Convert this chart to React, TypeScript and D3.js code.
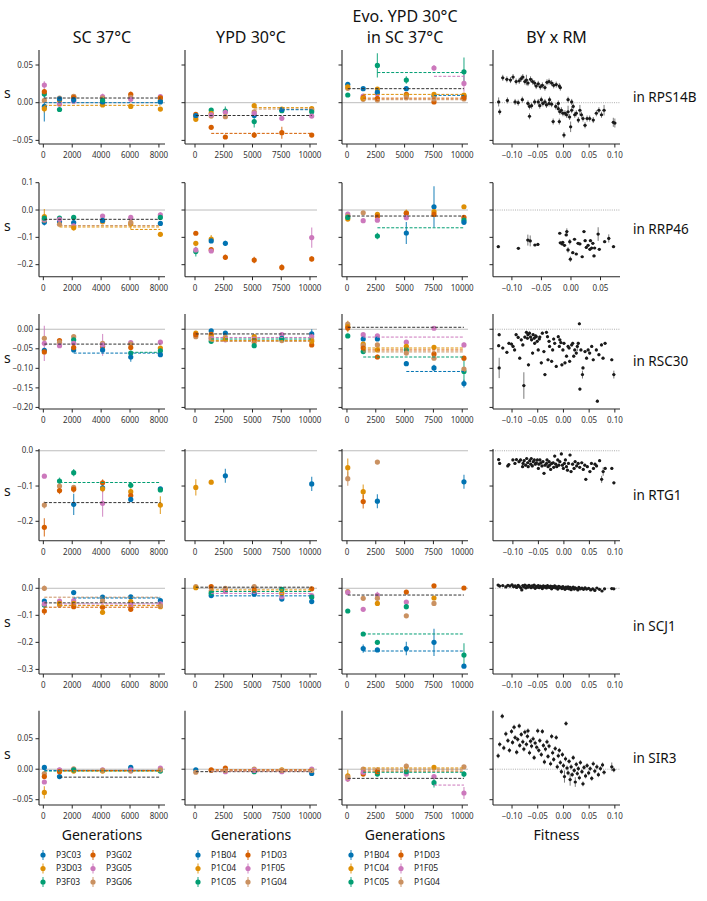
import React from 'react'
import * as d3 from 'd3'

// seaborn "colorblind" palette, same order as the legends
const COLORS = ['#0173b2', '#de8f05', '#029e73', '#d55e00', '#cc78bc', '#ca9161']

const GENS_SC = [70, 1120, 2100, 4100, 6050, 8100]
const GENS_YPD = [70, 1410, 2640, 5150, 7550, 10150]

const COL_TITLES = [['SC 37°C'], ['YPD 30°C'], ['Evo. YPD 30°C', 'in SC 37°C'], ['BY x RM']]
const GENES = ['RPS14B', 'RRP46', 'RSC30', 'RTG1', 'SCJ1', 'SIR3']
const LEGEND_SC = ['P3C03', 'P3D03', 'P3F03', 'P3G02', 'P3G05', 'P3G06']
const LEGEND_YPD = ['P1B04', 'P1C04', 'P1C05', 'P1D03', 'P1F05', 'P1G04']

const Y_TICKS = [
  [0.05, 0, -0.05],
  [0.1, 0, -0.1, -0.2],
  [0, -0.05, -0.1, -0.15, -0.2],
  [0, -0.1, -0.2],
  [0, -0.1, -0.2, -0.3],
  [0.05, 0, -0.05]
]
const Y_DIGITS = [2, 1, 2, 1, 1, 2]
const GEN_TICKS_SC = [0, 2000, 4000, 6000, 8000]
const GEN_TICKS_YPD = [0, 2500, 5000, 7500, 10000]
const FIT_TICKS = [-0.1, -0.05, 0, 0.05, 0.1]
const FIT_TICKS_RRP46 = [-0.1, -0.05, 0, 0.05]

// [colour, generation index, s, error]
type Pt = [number, number, number, number]
// [colour (-1 = black), start generation index, s]
type Ln = [number, number, number]
// [fitness, s, s error]
type Sc = [number, number, number?]

// ---------- RPS14B ----------
const RPS14B_SC: Pt[] = [
  [0,0,-0.005,0.02],[2,0,0.0115,0.004],[3,0,0.0146,0.004],[4,0,0.0234,0.005],[5,0,0.003,0.003],[1,0,-0.008,0.005],
  [4,1,-0.002,0.003],[3,1,0.0035,0.003],[5,1,0.006,0.002],[2,1,-0.009,0.002],[1,1,0.004,0.002],[0,1,0.005,0.002],
  [1,2,0.008,0.002],[5,2,0.0085,0.002],[3,2,0.0066,0.002],[4,2,0.002,0.002],[0,2,0.004,0.002],
  [3,3,-0.001,0.003],[4,3,0.008,0.004],[5,3,0.006,0.002],[1,3,-0.003,0.002],[0,3,0.001,0.002],[2,3,0.003,0.002],
  [3,4,0.011,0.004],[1,4,-0.005,0.002],[5,4,0.007,0.002],[4,4,0.0045,0.002],
  [4,5,0.008,0.002],[2,5,0.0027,0.002],[1,5,-0.0085,0.002],[5,5,0.006,0.002],[3,5,0.0065,0.002],[0,5,0.001,0.002]
]
const RPS14B_SC_MEAN: Ln[] = [[-1,0,0.0062],[0,0,0.0],[1,0,-0.0035]]
const RPS14B_YPD: Pt[] = [
  [3,0,-0.0155,0.002],[4,0,-0.0177,0.002],[5,0,-0.019,0.002],[1,0,-0.022,0.002],[0,0,-0.017,0.002],
  [2,1,-0.0097,0.002],[1,1,-0.014,0.002],[5,1,-0.0177,0.002],[3,1,-0.0327,0.002],[4,1,-0.016,0.002],
  [2,2,-0.011,0.006],[4,2,-0.0128,0.002],[5,2,-0.0186,0.002],[3,2,-0.0455,0.002],
  [1,3,-0.004,0.002],[5,3,-0.012,0.002],[0,3,-0.017,0.002],[2,3,-0.025,0.008],[4,3,-0.014,0.002],[3,3,-0.043,0.004],
  [1,4,-0.0084,0.002],[2,4,-0.0106,0.002],[0,4,-0.009,0.002],[4,4,-0.0208,0.002],[3,4,-0.0398,0.008],
  [1,5,-0.008,0.002],[5,5,-0.0097,0.002],[2,5,-0.012,0.002],[4,5,-0.0177,0.002],[3,5,-0.043,0.002]
]
const RPS14B_YPD_MEAN: Ln[] = [[1,3,-0.0066],[5,3,-0.0084],[0,4,-0.0093],[-1,0,-0.017],[3,1,-0.0407]]
const RPS14B_EVO: Pt[] = [
  [0,0,0.0243,0.002],[5,0,0.019,0.002],[2,0,0.0102,0.002],[1,0,0.021,0.002],
  [0,1,0.0186,0.002],[4,1,0.0088,0.002],[5,1,0.0044,0.002],[3,1,0.0066,0.002],[1,1,0.006,0.002],
  [2,2,0.0495,0.016],[1,2,0.018,0.002],[4,2,0.012,0.002],[0,2,0.014,0.002],[5,2,0.0035,0.002],[3,2,0.0058,0.002],
  [2,3,0.03,0.005],[0,3,0.0186,0.002],[3,3,0.011,0.003],[1,3,0.0097,0.002],[5,3,0.0066,0.002],
  [4,4,0.046,0.004],[0,4,0.0088,0.002],[1,4,0.011,0.002],[3,4,0.001,0.002],[5,4,0.005,0.002],
  [2,5,0.041,0.019],[4,5,0.0256,0.011],[0,5,0.0088,0.002],[1,5,0.01,0.002],[5,5,0.005,0.002],[3,5,0.0066,0.002]
]
const RPS14B_EVO_MEAN: Ln[] = [[2,2,0.04],[4,4,0.035],[-1,0,0.0186],[1,1,0.011],[0,4,0.0097],[3,1,0.006],[5,1,0.004]]
const RPS14B_BY: Sc[] = [
  [-0.118,0.033],[-0.11,0.031],[-0.103,0.03],[-0.098,0.034],[-0.092,0.028],[-0.086,0.029],[-0.082,0.032],[-0.079,0.034],
  [-0.075,0.028],[-0.072,0.03,0.007],[-0.069,0.026],[-0.064,0.031],[-0.06,0.028],[-0.056,0.026],[-0.053,0.022],[-0.049,0.025],
  [-0.045,0.021],[-0.041,0.023],[-0.036,0.02],[-0.032,0.027],[-0.028,0.028],[-0.023,0.026],[-0.019,0.023],[-0.014,0.024],
  [-0.008,0.022],[-0.006,0.02],
  [-0.126,0.001,0.006],[-0.124,-0.012],[-0.109,0.003],[-0.094,0.001],[-0.088,0.0],[-0.08,0.004],[-0.069,-0.001],[-0.066,-0.005],
  [-0.062,-0.004],[-0.066,-0.018],[-0.056,0.001],[-0.049,0.001],[-0.043,0.004],[-0.04,-0.001],[-0.036,0.001],[-0.033,-0.003],
  [-0.028,-0.001],[-0.023,-0.002],[-0.02,-0.025],[-0.015,-0.005],[-0.01,-0.008],[-0.008,-0.025],[-0.007,-0.012],[-0.004,-0.01],
  [-0.001,-0.014],[0.001,-0.043],[0.003,-0.014],[0.006,-0.016],[0.009,-0.012,0.008],[0.012,-0.019],[0.014,-0.032,0.007],[0.016,-0.01],
  [0.019,-0.005],[0.022,-0.016],[0.025,-0.014],[0.029,-0.023],[0.032,-0.01,0.007],[0.035,-0.016],[0.038,-0.021],[0.042,-0.03],
  [0.046,-0.021],[0.051,-0.021],[0.058,-0.023],[0.064,-0.014],[0.069,-0.01],[0.074,-0.016],[0.079,-0.01,0.007],[0.097,-0.026,0.006],
  [0.1,-0.027,0.006],[0.009,0.004],[0.016,0.001],[-0.01,-0.001],[-0.027,0.004],[-0.046,-0.004]
]

// ---------- RRP46 ----------
const RRP46_SC: Pt[] = [
  [1,0,-0.024,0.028],[0,0,-0.045,0.012],[5,0,-0.037,0.004],[4,0,-0.034,0.004],[2,0,-0.03,0.004],
  [2,1,-0.03,0.004],[0,1,-0.043,0.005],[4,1,-0.034,0.004],[5,1,-0.052,0.004],
  [2,2,-0.027,0.004],[0,2,-0.046,0.005],[4,2,-0.058,0.005],[1,2,-0.065,0.01],
  [4,3,-0.022,0.004],[1,3,-0.043,0.004],[5,3,-0.04,0.004],[0,3,-0.038,0.004],
  [4,4,-0.027,0.004],[1,4,-0.051,0.02],[5,4,-0.045,0.004],
  [4,5,-0.018,0.01],[2,5,-0.027,0.004],[0,5,-0.049,0.004],[1,5,-0.089,0.006]
]
const RRP46_SC_MEAN: Ln[] = [[-1,0,-0.034],[5,1,-0.057],[1,1,-0.062],[1,4,-0.071]]
const RRP46_YPD: Pt[] = [
  [3,0,-0.085,0.006],[1,0,-0.122,0.006],[2,0,-0.152,0.018],[4,0,-0.146,0.006],
  [1,1,-0.106,0.015],[0,1,-0.113,0.006],[3,1,-0.145,0.006],[4,1,-0.15,0.006],
  [0,2,-0.122,0.01],[3,2,-0.173,0.01],
  [3,3,-0.183,0.012],
  [3,4,-0.21,0.012],
  [4,5,-0.101,0.037],[3,5,-0.179,0.01]
]
const RRP46_YPD_MEAN: Ln[] = []
const RRP46_EVO: Pt[] = [
  [4,0,-0.015,0.005],[1,0,-0.033,0.004],[5,0,-0.022,0.004],[2,0,-0.027,0.004],
  [5,1,-0.01,0.004],[4,1,-0.039,0.004],
  [1,2,-0.016,0.006],[3,2,-0.024,0.012],[4,2,-0.037,0.004],[2,2,-0.095,0.012],
  [1,3,-0.01,0.012],[3,3,-0.012,0.006],[4,3,-0.028,0.004],[0,3,-0.084,0.04],
  [0,4,0.012,0.075],[1,4,-0.006,0.008],[3,4,-0.016,0.006],
  [1,5,0.012,0.004],[3,5,-0.027,0.006],[2,5,-0.037,0.01],[0,5,-0.045,0.006]
]
const RRP46_EVO_MEAN: Ln[] = [[-1,0,-0.022],[2,2,-0.065]]
const RRP46_BY: Sc[] = [
  [-0.123,-0.134],[-0.089,-0.14],[-0.073,-0.11,0.02],[-0.069,-0.113,0.02],[-0.061,-0.128],[-0.056,-0.126],[-0.019,-0.085],
  [-0.018,-0.12],[-0.015,-0.124],[-0.011,-0.129],[-0.007,-0.079,0.012],[-0.005,-0.146,0.01],[-0.002,-0.116,0.01],
  [-0.001,-0.18,0.01],[0.003,-0.156],[0.006,-0.107],[0.009,-0.161],[0.012,-0.122],[0.015,-0.124],[0.019,-0.171],
  [0.022,-0.079],[0.024,-0.112],[0.026,-0.137],[0.029,-0.129],[0.032,-0.144],[0.033,-0.112],[0.035,-0.139],[0.037,-0.122],
  [0.039,-0.168],[0.04,-0.139],[0.046,-0.088,0.025],[0.048,-0.144],[0.057,-0.116],[0.064,-0.104,0.015],[0.072,-0.134],
  [-0.014,-0.118],[-0.008,-0.091]
]

// ---------- RSC30 ----------
const RSC30_SC: Pt[] = [
  [5,0,-0.023,0.004],[4,0,-0.036,0.045],[0,0,-0.054,0.006],[3,0,-0.058,0.004],
  [3,1,-0.029,0.004],[5,1,-0.033,0.004],[4,1,-0.042,0.004],
  [5,2,-0.019,0.004],[2,2,-0.027,0.004],[4,2,-0.036,0.004],[0,2,-0.053,0.004],[3,2,-0.047,0.004],
  [5,3,-0.036,0.004],[3,3,-0.044,0.004],[4,3,-0.04,0.028],[0,3,-0.053,0.004],
  [4,4,-0.034,0.004],[5,4,-0.038,0.004],[3,4,-0.047,0.004],[2,4,-0.061,0.004],[0,4,-0.071,0.012],
  [4,5,-0.033,0.004],[1,5,-0.048,0.004],[2,5,-0.055,0.004],[0,5,-0.065,0.004]
]
const RSC30_SC_MEAN: Ln[] = [[-1,0,-0.038],[0,2,-0.061],[2,4,-0.059]]
const RSC30_YPD: Pt[] = [
  [1,0,-0.01,0.003],[5,0,-0.019,0.003],[3,0,-0.014,0.003],
  [0,1,-0.004,0.004],[3,1,-0.013,0.004],[1,1,-0.019,0.003],[4,1,-0.023,0.003],[2,1,-0.031,0.003],[5,1,-0.025,0.003],
  [0,2,-0.01,0.003],[5,2,-0.02,0.003],[4,2,-0.027,0.003],[1,2,-0.025,0.003],
  [1,3,-0.019,0.003],[4,3,-0.025,0.003],[5,3,-0.033,0.003],[3,3,-0.027,0.003],[2,3,-0.042,0.003],
  [4,4,-0.014,0.003],[0,4,-0.023,0.003],[5,4,-0.029,0.003],[2,4,-0.025,0.003],
  [0,5,-0.012,0.012],[4,5,-0.019,0.003],[5,5,-0.027,0.003],[3,5,-0.04,0.003],[1,5,-0.031,0.003]
]
const RSC30_YPD_MEAN: Ln[] = [[-1,0,-0.012],[4,1,-0.021],[2,1,-0.025],[1,1,-0.029],[5,1,-0.031]]
const RSC30_EVO: Pt[] = [
  [5,0,0.013,0.004],[1,0,0.007,0.015],[3,0,0.003,0.004],[2,0,-0.017,0.003],
  [4,1,-0.014,0.004],[0,1,-0.025,0.004],[1,1,-0.038,0.004],[5,1,-0.042,0.004],[2,1,-0.057,0.004],[3,1,-0.048,0.004],
  [4,2,-0.017,0.004],[0,2,-0.025,0.004],[5,2,-0.04,0.004],[1,2,-0.053,0.004],[3,2,-0.071,0.006],
  [4,3,-0.033,0.004],[1,3,-0.044,0.004],[2,3,-0.053,0.004],[5,3,-0.061,0.004],[0,3,-0.088,0.006],
  [4,4,0.0025,0.003],[1,4,-0.046,0.004],[3,4,-0.063,0.004],[5,4,-0.074,0.004],[0,4,-0.099,0.008],
  [4,5,-0.04,0.006],[3,5,-0.074,0.004],[2,5,-0.108,0.034],[5,5,-0.102,0.004],[0,5,-0.139,0.01]
]
const RSC30_EVO_MEAN: Ln[] = [[-1,0,0.005],[4,1,-0.02],[1,1,-0.048],[3,1,-0.053],[5,1,-0.058],[2,1,-0.071],[0,3,-0.108]]
const RSC30_BY: Sc[] = [
  [-0.125,-0.014],[-0.126,-0.042],[-0.125,-0.099,0.026],[-0.118,-0.048],[-0.11,-0.059],[-0.106,-0.036],[-0.101,-0.038],
  [-0.098,-0.044],[-0.095,-0.053],[-0.092,-0.014],[-0.088,-0.021],[-0.085,-0.074],[-0.082,-0.027],[-0.079,-0.04],
  [-0.077,-0.144,0.034],[-0.075,-0.02],[-0.072,-0.008],[-0.07,-0.023],[-0.069,-0.014],[-0.068,-0.091],[-0.066,-0.01],
  [-0.064,-0.02],[-0.062,-0.027],[-0.06,-0.061],[-0.059,-0.014],[-0.057,-0.023],[-0.056,-0.036],[-0.054,-0.017],
  [-0.053,-0.019],[-0.051,-0.031],[-0.049,-0.053],[-0.047,-0.025],[-0.046,-0.02],[-0.043,-0.086],[-0.041,-0.01],
  [-0.038,-0.057],[-0.036,-0.116],[-0.033,-0.008],[-0.031,-0.019],[-0.03,-0.078],[-0.028,-0.031],[-0.027,-0.044],
  [-0.023,-0.082],[-0.021,-0.053],[-0.019,-0.025],[-0.017,-0.036],[-0.014,-0.095],[-0.01,-0.019],[-0.008,-0.044],
  [-0.007,-0.027],[-0.005,-0.034],[-0.003,-0.091],[-0.001,-0.053],[0.001,-0.036],[0.003,-0.086],[0.006,-0.069],
  [0.009,-0.044],[0.011,-0.048],[0.012,-0.082],[0.016,-0.04],[0.018,-0.036],[0.02,-0.069],[0.022,-0.053],[0.025,-0.061],
  [0.027,-0.044,0.012],[0.029,-0.036],[0.031,0.014],[0.032,-0.153],[0.034,-0.053],[0.037,-0.116,0.01],[0.038,-0.099],
  [0.042,-0.057],[0.045,-0.074],[0.048,-0.053],[0.051,-0.061],[0.055,-0.044],[0.058,-0.078],[0.064,-0.053],[0.066,-0.184],
  [0.069,-0.065],[0.074,-0.04],[0.077,-0.074],[0.081,-0.036],[0.094,-0.078],[0.098,-0.116,0.01]
]

// ---------- RTG1 ----------
const RTG1_SC: Pt[] = [
  [4,0,-0.072,0.005],[5,0,-0.154,0.01],[3,0,-0.217,0.026],
  [2,1,-0.086,0.01],[5,1,-0.1,0.005],[3,1,-0.113,0.01],
  [2,2,-0.062,0.01],[5,2,-0.104,0.005],[3,2,-0.109,0.01],[0,2,-0.152,0.03],
  [3,3,-0.091,0.01],[0,3,-0.105,0.01],[1,3,-0.108,0.01],[4,3,-0.149,0.038],
  [2,4,-0.098,0.005],[1,4,-0.116,0.01],[3,4,-0.127,0.005],[0,4,-0.138,0.005],
  [0,5,-0.108,0.005],[2,5,-0.111,0.005],[1,5,-0.154,0.025]
]
const RTG1_SC_MEAN: Ln[] = [[2,1,-0.09],[-1,0,-0.147]]
const RTG1_YPD: Pt[] = [[1,0,-0.104,0.023],[1,1,-0.089,0.006],[0,2,-0.071,0.02],[0,5,-0.094,0.02]]
const RTG1_YPD_MEAN: Ln[] = []
const RTG1_EVO: Pt[] = [
  [1,0,-0.048,0.026],[5,0,-0.079,0.02],[1,1,-0.116,0.02],[3,1,-0.144,0.02],[5,2,-0.032,0.005],[0,2,-0.143,0.02],[0,5,-0.088,0.02]
]
const RTG1_EVO_MEAN: Ln[] = []
const RTG1_BY: Sc[] = [
  [-0.128,-0.025],[-0.126,-0.036],[-0.11,-0.043],[-0.108,-0.039],[-0.1,-0.026],[-0.096,-0.036],[-0.093,-0.025],
  [-0.088,-0.031],[-0.085,-0.026],[-0.081,-0.045],[-0.08,-0.036],[-0.078,-0.028],[-0.075,-0.041],[-0.073,-0.022],
  [-0.071,-0.034],[-0.07,-0.045],[-0.067,-0.028],[-0.065,-0.038],[-0.064,-0.022],[-0.062,-0.043],[-0.06,-0.031],
  [-0.058,-0.026],[-0.056,-0.038],[-0.054,-0.034],[-0.052,-0.026],[-0.05,-0.05],[-0.049,-0.038],[-0.047,-0.026],
  [-0.045,-0.034],[-0.043,-0.043],[-0.041,-0.031],[-0.039,-0.064],[-0.037,-0.041],[-0.034,-0.036],[-0.033,-0.026],
  [-0.031,-0.045],[-0.029,-0.031],[-0.028,-0.041],[-0.026,-0.053],[-0.024,-0.036],[-0.021,-0.034],[-0.02,-0.047],
  [-0.018,-0.015],[-0.016,-0.038],[-0.014,-0.045],[-0.012,-0.026],[-0.01,-0.041],[-0.008,-0.031],[-0.005,-0.009],
  [-0.003,-0.041],[-0.001,-0.05],[0.001,-0.036],[0.003,-0.026],[0.005,-0.045],[0.007,-0.055],[0.009,-0.036],
  [0.012,-0.012],[0.014,-0.059],[0.017,-0.038],[0.02,-0.05],[0.022,-0.031],[0.025,-0.043],[0.028,-0.036],[0.031,-0.047],
  [0.035,-0.034],[0.038,-0.053],[0.041,-0.041],[0.043,-0.081],[0.046,-0.045],[0.051,-0.059],[0.054,-0.036],[0.058,-0.05],
  [0.061,-0.038],[0.064,-0.043],[0.07,-0.028],[0.074,-0.081,0.01],[0.077,-0.059,0.012],[0.081,-0.05],[0.094,-0.05],[0.098,-0.091]
]

// ---------- SCJ1 ----------
const SCJ1_SC: Pt[] = [
  [5,0,0.0,0.01],[0,0,-0.047,0.004],[2,0,-0.062,0.004],[4,0,-0.058,0.004],[3,0,-0.084,0.015],
  [4,1,-0.047,0.004],[5,1,-0.062,0.004],[1,1,-0.056,0.004],
  [0,2,-0.016,0.004],[4,2,-0.046,0.004],[1,2,-0.056,0.004],[3,2,-0.068,0.004],
  [0,3,-0.033,0.004],[5,3,-0.046,0.004],[3,3,-0.07,0.004],[1,3,-0.089,0.004],
  [0,4,-0.032,0.004],[1,4,-0.049,0.004],[4,4,-0.062,0.004],[3,4,-0.078,0.004],
  [0,5,-0.046,0.004],[4,5,-0.058,0.004],[1,5,-0.068,0.004],[5,5,-0.065,0.004]
]
const SCJ1_SC_MEAN: Ln[] = [[5,0,-0.033],[0,2,-0.036],[-1,0,-0.054],[4,1,-0.058],[1,1,-0.064],[3,0,-0.07]]
const SCJ1_YPD: Pt[] = [
  [5,0,0.006,0.004],[1,0,0.002,0.003],
  [3,1,0.006,0.003],[0,1,-0.027,0.004],[5,1,-0.01,0.003],[2,1,-0.018,0.003],
  [5,2,0.0,0.003],[4,2,-0.012,0.003],
  [5,3,0.006,0.003],[4,3,-0.016,0.003],[0,3,-0.022,0.003],[3,3,-0.006,0.003],
  [2,4,-0.004,0.003],[0,4,-0.04,0.004],[4,4,-0.031,0.004],[1,4,-0.018,0.003],
  [3,5,-0.002,0.003],[4,5,-0.027,0.003],[2,5,-0.033,0.003],[0,5,-0.049,0.004]
]
const SCJ1_YPD_MEAN: Ln[] = [[-1,0,0.004],[1,1,-0.006],[2,1,-0.012],[4,1,-0.019],[0,1,-0.028]]
const SCJ1_EVO: Pt[] = [
  [5,0,-0.012,0.004],[4,0,-0.016,0.004],[2,0,-0.084,0.004],
  [5,1,-0.037,0.004],[4,1,-0.078,0.004],[2,1,-0.169,0.004],[0,1,-0.223,0.015],
  [4,2,-0.025,0.012],[5,2,-0.037,0.004],[1,2,-0.056,0.004],[2,2,-0.2,0.004],[0,2,-0.228,0.004],
  [3,3,-0.014,0.004],[4,3,-0.051,0.004],[2,3,-0.068,0.01],[5,3,-0.102,0.004],[0,3,-0.223,0.025],
  [3,4,0.009,0.004],[1,4,-0.036,0.004],[5,4,-0.056,0.004],[0,4,-0.2,0.05],
  [3,5,0.001,0.004],[2,5,-0.247,0.044],[0,5,-0.288,0.004]
]
const SCJ1_EVO_MEAN: Ln[] = [[-1,0,-0.025],[2,1,-0.169],[0,1,-0.232]]
const SCJ1_BY: Sc[] = [
  [-0.127,0.012],[-0.124,0.008],[-0.118,0.01],[-0.112,0.005],[-0.108,0.011],[-0.104,0.008],[-0.1,0.013],[-0.097,0.006],
  [-0.094,0.009],[-0.091,0.003],[-0.088,0.011],[-0.086,0.007],[-0.083,0.002],[-0.081,-0.006],[-0.079,0.01],[-0.077,0.005],
  [-0.075,0.012],[-0.073,0.001],[-0.071,0.008],[-0.069,0.004],[-0.067,0.011],[-0.065,0.006],[-0.063,0.002],[-0.061,0.009],
  [-0.059,0.005],[-0.057,0.012],[-0.055,0.0],[-0.053,0.007],[-0.051,0.004],[-0.049,0.01],[-0.047,0.002],[-0.045,0.008],
  [-0.043,0.005],[-0.041,-0.001],[-0.039,0.009],[-0.037,0.004],[-0.035,0.007],[-0.033,0.001],[-0.031,0.01],[-0.029,0.005],
  [-0.027,0.003],[-0.025,0.008],[-0.023,-0.002],[-0.021,0.006],[-0.019,0.003],[-0.017,0.009],[-0.015,0.001],[-0.013,0.005],
  [-0.011,-0.003],[-0.009,0.007],[-0.007,0.002],[-0.005,0.004],[-0.003,-0.001],[-0.001,0.006],[0.001,0.002],[0.003,-0.004],
  [0.005,0.004],[0.007,0.0],[0.009,0.005],[0.011,-0.002],[0.013,0.003],[0.015,-0.005],[0.017,0.001],[0.019,0.004],
  [0.021,-0.003],[0.023,0.002],[0.025,-0.001],[0.028,-0.006],[0.03,0.003],[0.033,-0.002],[0.036,0.001],[0.039,-0.004],
  [0.042,0.002],[0.045,-0.003],[0.049,0.0],[0.053,-0.006],[0.057,-0.002],[0.061,-0.008],[0.065,0.001],[0.07,-0.004],
  [0.075,-0.01],[0.08,-0.002],[0.094,-0.001],[0.098,-0.002]
]

// ---------- SIR3 ----------
const SIR3_SC: Pt[] = [
  [0,0,0.003,0.004],[5,0,-0.007,0.004],[3,0,-0.012,0.003],[4,0,-0.021,0.003],[1,0,-0.038,0.01],
  [0,1,-0.012,0.003],[5,1,-0.002,0.003],[4,1,-0.001,0.003],[3,1,-0.004,0.003],
  [5,2,0.0005,0.003],[4,2,-0.001,0.003],[1,2,-0.003,0.003],[2,2,-0.001,0.003],
  [4,3,-0.001,0.003],[1,3,-0.003,0.003],[5,3,-0.002,0.003],
  [0,4,0.003,0.003],[5,4,-0.003,0.003],[4,4,-0.001,0.003],
  [4,5,0.002,0.003],[2,5,-0.003,0.003],[5,5,-0.001,0.003]
]
const SIR3_SC_MEAN: Ln[] = [[-1,1,-0.013],[2,0,-0.003],[0,0,-0.002],[1,1,-0.003],[3,1,-0.002]]
const SIR3_YPD: Pt[] = [
  [0,0,-0.001,0.003],[5,0,-0.005,0.003],
  [5,1,-0.002,0.003],[3,1,-0.001,0.003],
  [3,2,0.002,0.003],[4,2,-0.004,0.003],[5,2,-0.002,0.003],
  [5,3,0.0,0.003],[2,3,-0.004,0.003],[4,3,-0.002,0.003],
  [1,4,-0.001,0.003],[4,4,-0.004,0.003],[5,4,-0.002,0.003],
  [4,5,0.0,0.003],[0,5,-0.007,0.003],[5,5,-0.002,0.003]
]
const SIR3_YPD_MEAN: Ln[] = [[-1,0,-0.004],[3,1,-0.001],[1,1,-0.002],[4,1,-0.003],[5,1,-0.003]]
const SIR3_EVO: Pt[] = [
  [1,0,-0.011,0.01],[4,0,-0.016,0.004],[5,0,-0.013,0.004],
  [5,1,0.0,0.003],[3,1,-0.008,0.003],[4,1,-0.005,0.003],
  [5,2,-0.001,0.003],[2,2,-0.008,0.003],[3,2,-0.004,0.003],
  [5,3,0.005,0.004],[4,3,-0.008,0.003],[2,3,-0.004,0.003],
  [1,4,0.003,0.003],[4,4,-0.012,0.003],[2,4,-0.022,0.008],
  [5,5,0.004,0.003],[2,5,-0.008,0.005],[4,5,-0.039,0.01]
]
const SIR3_EVO_MEAN: Ln[] = [[-1,0,-0.015],[1,1,0.002],[5,1,0.0],[3,1,-0.003],[2,1,-0.005],[4,4,-0.026]]
const SIR3_BY: Sc[] = [
  [-0.127,0.022],[-0.124,0.041],[-0.119,0.087],[-0.116,0.035],[-0.112,0.058],[-0.108,0.047],[-0.105,0.031],[-0.101,0.062],
  [-0.099,0.044],[-0.096,0.069],[-0.094,0.052],[-0.091,0.028],[-0.089,0.049],[-0.086,0.071],[-0.085,0.039],[-0.082,0.057],
  [-0.079,0.045],[-0.077,0.033],[-0.075,0.061],[-0.072,0.041],[-0.07,0.054],[-0.069,0.063],[-0.066,0.027],[-0.064,0.046],
  [-0.062,0.038],[-0.059,0.05],[-0.057,0.019],[-0.055,0.043],[-0.052,0.036],[-0.05,0.063],[-0.048,0.031],[-0.046,0.047],
  [-0.043,0.024],[-0.041,0.062],[-0.039,0.039],[-0.037,0.012],[-0.035,0.033],[-0.032,0.045],[-0.03,0.021],[-0.028,0.038],
  [-0.025,0.009],[-0.023,0.054],[-0.021,0.027],[-0.019,0.016],[-0.016,0.034],[-0.014,0.052],[-0.012,0.004],[-0.01,0.022],
  [-0.008,0.031],[-0.006,0.011],[-0.004,-0.004],[-0.002,0.024],[0.0,0.006],[0.002,-0.012,0.01],[0.004,0.017],[0.005,0.075],
  [0.007,0.002],[0.009,-0.006],[0.011,0.013],[0.013,-0.017,0.01],[0.015,0.004],[0.017,-0.009],[0.019,0.019],[0.021,-0.002],
  [0.023,-0.021,0.008],[0.025,0.008],[0.027,-0.007],[0.029,0.001],[0.031,-0.014],[0.033,0.011],[0.036,-0.004],[0.038,-0.024],
  [0.04,0.003],[0.043,-0.011],[0.046,0.006],[0.049,-0.006],[0.052,0.001],[0.055,-0.015],[0.058,0.009],[0.061,-0.003],
  [0.065,0.004],[0.068,-0.009],[0.072,0.001],[0.076,0.007],[0.079,-0.005],[0.094,0.004,0.007],[0.098,-0.001]
]

const ROWS = [
  { sc: RPS14B_SC, scM: RPS14B_SC_MEAN, ypd: RPS14B_YPD, ypdM: RPS14B_YPD_MEAN, evo: RPS14B_EVO, evoM: RPS14B_EVO_MEAN, by: RPS14B_BY },
  { sc: RRP46_SC, scM: RRP46_SC_MEAN, ypd: RRP46_YPD, ypdM: RRP46_YPD_MEAN, evo: RRP46_EVO, evoM: RRP46_EVO_MEAN, by: RRP46_BY },
  { sc: RSC30_SC, scM: RSC30_SC_MEAN, ypd: RSC30_YPD, ypdM: RSC30_YPD_MEAN, evo: RSC30_EVO, evoM: RSC30_EVO_MEAN, by: RSC30_BY },
  { sc: RTG1_SC, scM: RTG1_SC_MEAN, ypd: RTG1_YPD, ypdM: RTG1_YPD_MEAN, evo: RTG1_EVO, evoM: RTG1_EVO_MEAN, by: RTG1_BY },
  { sc: SCJ1_SC, scM: SCJ1_SC_MEAN, ypd: SCJ1_YPD, ypdM: SCJ1_YPD_MEAN, evo: SCJ1_EVO, evoM: SCJ1_EVO_MEAN, by: SCJ1_BY },
  { sc: SIR3_SC, scM: SIR3_SC_MEAN, ypd: SIR3_YPD, ypdM: SIR3_YPD_MEAN, evo: SIR3_EVO, evoM: SIR3_EVO_MEAN, by: SIR3_BY }
]

// layout
const W = 707
const H = 901
const COL_X = [[39, 165], [185, 317], [342, 468], [493, 620]]
const ROW_Y = [[50, 144], [182.7, 276.7], [314, 409], [449, 540.7], [578, 674], [710.7, 805]]
const Y_DOM = [[0.0699, -0.0548], [0.1, -0.244], [0.039, -0.204], [0.005, -0.255], [0.038, -0.317], [0.096, -0.0587]]
const GEN_DOM = [[-300, 8420], [-870, 10610], [-430, 10500]]
const FIT_DOM = [[-0.137, 0.11], [-0.132, 0.083], [-0.137, 0.11], [-0.139, 0.11], [-0.137, 0.11], [-0.137, 0.11]]

const FONT = '"Noto Sans", "DejaVu Sans", sans-serif'
const AX = '#262626'
const TICK_FS = 8

function Frame({ col, row, x, y, xTicks, xFmt }) {
  const [x0, x1] = COL_X[col]
  const [y0, y1] = ROW_Y[row]
  const yFmt = d3.format(`.${Y_DIGITS[row]}f`)
  return (
    <g>
      <line x1={x0} x2={x0} y1={y0} y2={y1} stroke={AX} strokeWidth={1.1} />
      <line x1={x0} x2={x1} y1={y1} y2={y1} stroke={AX} strokeWidth={1.1} />
      {Y_TICKS[row].map(t => (
        <g key={'y' + t}>
          <line x1={x0 - 3.5} x2={x0} y1={y(t)} y2={y(t)} stroke={AX} strokeWidth={1} />
          {col === 0 && (
            <text x={x0 - 6} y={y(t)} dy="0.33em" textAnchor="end" fontSize={TICK_FS} fill="#333">{yFmt(t)}</text>
          )}
        </g>
      ))}
      {xTicks.map(t => (
        <g key={'x' + t}>
          <line x1={x(t)} x2={x(t)} y1={y1} y2={y1 + 3.5} stroke={AX} strokeWidth={1} />
          <text x={x(t)} y={y1 + 14} textAnchor="middle" fontSize={TICK_FS} fill="#333">{xFmt(t)}</text>
        </g>
      ))}
    </g>
  )
}

function GenPanel({ col, row, pts, means }) {
  const gens = col === 0 ? GENS_SC : GENS_YPD
  const [x0, x1] = COL_X[col]
  const [y0, y1] = ROW_Y[row]
  const x = d3.scaleLinear().domain(GEN_DOM[col]).range([x0, x1])
  const y = d3.scaleLinear().domain(Y_DOM[row]).range([y0, y1])
  const last = gens[gens.length - 1]
  return (
    <g>
      <line x1={x0} x2={x1} y1={y(0)} y2={y(0)} stroke="#bdbdbd" strokeWidth={1} />
      {pts.map(([c, i, s, e], k) => (
        <line key={'e' + k} x1={x(gens[i])} x2={x(gens[i])} y1={y(s - e)} y2={y(s + e)}
          stroke={COLORS[c]} strokeWidth={1.2} opacity={0.75} />
      ))}
      {pts.map(([c, i, s], k) => (
        <circle key={'p' + k} cx={x(gens[i])} cy={y(s)} r={2.6} fill={COLORS[c]} />
      ))}
      {means.map(([c, i, s], k) => (
        <line key={'m' + k} x1={x(gens[i])} x2={x(last)} y1={y(s)} y2={y(s)}
          stroke={c < 0 ? '#333' : COLORS[c]} strokeWidth={1} strokeDasharray="3,1.6" />
      ))}
      <Frame col={col} row={row} x={x} y={y}
        xTicks={col === 0 ? GEN_TICKS_SC : GEN_TICKS_YPD} xFmt={d3.format('d')} />
    </g>
  )
}

function FitPanel({ row, pts }) {
  const [x0, x1] = COL_X[3]
  const [y0, y1] = ROW_Y[row]
  const x = d3.scaleLinear().domain(FIT_DOM[row]).range([x0, x1])
  const y = d3.scaleLinear().domain(Y_DOM[row]).range([y0, y1])
  return (
    <g>
      <line x1={x0} x2={x1} y1={y(0)} y2={y(0)} stroke="#999" strokeWidth={0.8} strokeDasharray="1,1.2" />
      {pts.map(([f, s, e = 0.004], k) => (
        <g key={k}>
          <line x1={x(f)} x2={x(f)} y1={y(s - e)} y2={y(s + e)} stroke="#444" strokeWidth={1} opacity={0.7} />
          <line x1={x(f - 0.003)} x2={x(f + 0.003)} y1={y(s)} y2={y(s)} stroke="#444" strokeWidth={1} opacity={0.7} />
          <circle cx={x(f)} cy={y(s)} r={1.6} fill="#1a1a1a" />
        </g>
      ))}
      <Frame col={3} row={row} x={x} y={y} xTicks={row === 1 ? FIT_TICKS_RRP46 : FIT_TICKS} xFmt={d3.format('.2f')} />
    </g>
  )
}

function Legend({ col, labels }) {
  const base = [43, 198, 351][col]
  return (
    <g>
      {labels.map((l, i) => {
        const cx = base + Math.floor(i / 3) * 50
        const cy = 855 + (i % 3) * 13.5
        return (
          <g key={l}>
            <line x1={cx} x2={cx} y1={cy - 5} y2={cy + 5} stroke={COLORS[i]} strokeWidth={1.2} opacity={0.75} />
            <circle cx={cx} cy={cy} r={2.6} fill={COLORS[i]} />
            <text x={cx + 13} y={cy} dy="0.35em" fontSize={8.5} fill="#222">{l}</text>
          </g>
        )
      })}
    </g>
  )
}

export default function App() {
  return (
    <svg width={W} height={H} style={{ display: 'block', position: 'absolute', left: 0, top: 0, background: '#fff' }}
      fontFamily={FONT}>
      {COL_TITLES.map((lines, c) => {
        const cx = (COL_X[c][0] + COL_X[c][1]) / 2
        return lines.map((t, j) => (
          <text key={c + '-' + j} x={cx} y={43 - (lines.length - 1 - j) * 21} textAnchor="middle" fontSize={16} fill="#111">{t}</text>
        ))
      })}
      {ROWS.map((r, i) => {
        const mid = (ROW_Y[i][0] + ROW_Y[i][1]) / 2
        return (
          <g key={i}>
            <GenPanel col={0} row={i} pts={r.sc} means={r.scM} />
            <GenPanel col={1} row={i} pts={r.ypd} means={r.ypdM} />
            <GenPanel col={2} row={i} pts={r.evo} means={r.evoM} />
            <FitPanel row={i} pts={r.by} />
            <text x={4} y={mid} dy="0.1em" fontSize={14} fill="#111">s</text>
            <text x={633} y={mid} dy="0.35em" fontSize={13.5} fill="#111">in {GENES[i]}</text>
          </g>
        )
      })}
      {['Generations', 'Generations', 'Generations', 'Fitness'].map((t, c) => (
        <text key={c} x={(COL_X[c][0] + COL_X[c][1]) / 2} y={840} textAnchor="middle" fontSize={14} fill="#111">{t}</text>
      ))}
      <Legend col={0} labels={LEGEND_SC} />
      <Legend col={1} labels={LEGEND_YPD} />
      <Legend col={2} labels={LEGEND_YPD} />
    </svg>
  )
}
